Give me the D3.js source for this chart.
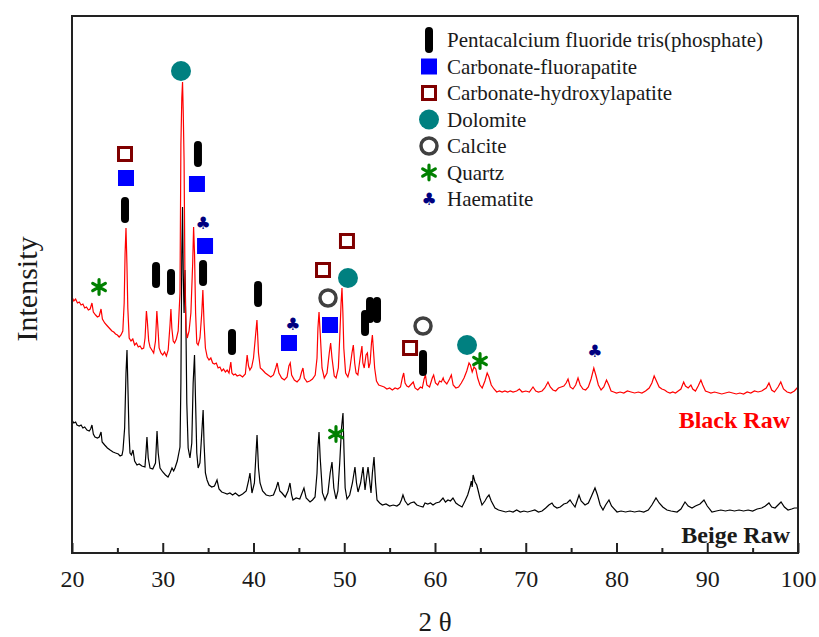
<!DOCTYPE html>
<html>
<head>
<meta charset="utf-8">
<script src="https://cdn.jsdelivr.net/npm/d3@7"></script>
<style>
  body { margin: 0; background: #fff; }
  svg text { font-family: "Liberation Serif", "Times New Roman", serif; fill: #1a1a1a; }
</style>
</head>
<body>
<div id="chart"></div>
<script>
// 2-theta (deg) vs intensity (a.u.)
const blackRaw = [
  [20.0,256],[20.2,252],[20.4,254],[20.6,250],[20.8,251],[21.0,248],[21.2,249],[21.4,245],[21.6,246],[21.8,243],
  [22.0,244],[22.2,250],[22.35,241],[22.6,238],[22.8,236],[23.0,237],[23.2,244],[23.35,234],[23.6,230],[23.8,228],
  [24.0,226],[24.2,224],[24.4,222],[24.6,221],[24.8,219],[25.0,218],[25.2,216],[25.4,218],[25.6,222],[25.75,250],
  [25.85,300],[25.95,325],[26.05,290],[26.15,245],[26.3,215],[26.5,212],[26.7,214],[26.9,208],[27.1,210],[27.3,206],
  [27.5,207],[27.7,204],[27.9,205],[28.05,215],[28.2,242],[28.3,232],[28.45,212],[28.6,206],[28.8,203],[29.0,200],
  [29.2,212],[29.35,242],[29.45,228],[29.6,205],[29.8,200],[30.0,198],[30.2,201],[30.4,197],[30.6,203],[30.8,228],
  [30.9,244],[31.0,225],[31.15,212],[31.3,210],[31.5,214],[31.7,222],[31.9,260],[32.0,408],[32.1,455],[32.18,471],
  [32.26,440],[32.35,393],[32.45,270],[32.55,225],[32.7,215],[32.9,222],[33.1,240],[33.3,290],[33.4,326],[33.5,300],
  [33.62,240],[33.75,210],[33.9,208],[34.1,215],[34.3,240],[34.42,263],[34.55,230],[34.7,205],[34.9,196],[35.1,193],
  [35.3,195],[35.5,190],[35.7,189],[35.9,190],[36.1,185],[36.3,186],[36.5,182],[36.7,184],[36.9,181],[37.1,183],
  [37.3,180],[37.5,191],[37.62,180],[37.8,178],[38.0,179],[38.2,177],[38.5,178],[38.8,176],[39.1,179],[39.3,198],
  [39.45,187],[39.6,183],[39.8,186],[40.0,195],[40.2,215],[40.38,233],[40.55,200],[40.75,185],[41.0,183],[41.3,180],
  [41.6,178],[41.9,176],[42.2,178],[42.45,185],[42.6,190],[42.8,180],[43.1,175],[43.4,173],[43.7,176],[43.9,187],
  [44.05,190],[44.2,178],[44.5,173],[44.8,171],[45.1,174],[45.3,181],[45.45,185],[45.6,175],[45.9,171],[46.2,172],
  [46.5,174],[46.8,178],[47.0,195],[47.1,225],[47.22,241],[47.35,220],[47.55,185],[47.8,175],[48.1,180],[48.35,200],
  [48.5,210],[48.65,195],[48.9,177],[49.1,175],[49.35,185],[49.5,215],[49.65,250],[49.75,265],[49.85,240],[49.95,205],
  [50.15,180],[50.4,176],[50.6,183],[50.85,200],[51.0,208],[51.15,190],[51.3,180],[51.5,178],[51.75,195],[51.95,207],
  [52.05,190],[52.2,185],[52.4,198],[52.55,200],[52.7,185],[52.85,190],[53.0,210],[53.1,218],[53.2,205],[53.35,185],
  [53.55,172],[53.8,168],[54.1,167],[54.4,166],[54.7,164],[55.0,165],[55.3,163],[55.6,165],[55.9,164],[56.2,166],
  [56.4,175],[56.55,180],[56.7,170],[56.9,167],[57.1,166],[57.3,168],[57.6,171],[57.8,165],[58.1,163],[58.4,166],
  [58.6,165],[58.8,174],[58.95,178],[59.1,168],[59.4,166],[59.7,175],[59.85,178],[60.05,170],[60.3,168],[60.5,172],
  [60.7,171],[60.9,175],[61.0,172],[61.3,169],[61.6,174],[61.8,178],[62.0,168],[62.3,165],[62.6,166],[62.9,170],
  [63.2,175],[63.5,182],[63.75,190],[63.9,188],[64.1,181],[64.3,186],[64.5,184],[64.7,175],[64.95,168],[65.2,165],
  [65.5,172],[65.75,180],[65.95,176],[66.2,168],[66.5,164],[66.8,161],[67.1,162],[67.4,161],[67.7,162],[68.0,161],
  [68.3,162],[68.6,161],[69.0,162],[69.3,164],[69.6,161],[70.0,162],[70.4,161],[70.8,166],[71.1,162],[71.4,161],
  [71.8,162],[72.1,165],[72.45,171],[72.7,166],[73.0,163],[73.3,162],[73.6,165],[73.9,166],[74.2,167],[74.45,170],
  [74.66,174],[74.9,166],[75.2,164],[75.5,168],[75.76,175],[76.0,168],[76.3,164],[76.6,163],[76.9,166],[77.2,174],
  [77.5,185],[77.75,177],[78.0,168],[78.3,163],[78.6,166],[78.9,173],[79.15,168],[79.4,162],[79.7,161],[80.0,160],
  [80.4,161],[80.8,160],[81.2,162],[81.6,161],[82.0,160],[82.4,161],[82.8,160],[83.2,162],[83.6,165],[83.9,170],
  [84.15,177],[84.4,172],[84.7,166],[85.0,164],[85.3,163],[85.6,161],[85.9,160],[86.2,161],[86.5,160],[86.8,162],
  [87.1,164],[87.4,171],[87.6,167],[87.9,165],[88.2,168],[88.4,164],[88.7,162],[89.0,167],[89.3,173],[89.5,168],
  [89.8,162],[90.1,161],[90.4,160],[90.8,161],[91.2,160],[91.6,159],[92.0,160],[92.4,161],[92.8,160],[93.2,159],
  [93.6,160],[94.0,159],[94.4,161],[94.8,160],[95.2,162],[95.6,161],[96.0,162],[96.5,165],[96.8,170],[97.1,163],
  [97.4,161],[97.8,166],[98.1,171],[98.4,164],[98.8,161],[99.2,160],[99.6,162],[100.0,166]
];

const beigeRaw = [
  [20.0,133],[20.2,130],[20.4,131],[20.55,128],[20.8,127],[21.0,128],[21.2,125],[21.4,126],[21.65,123],[21.9,122],
  [22.05,124],[22.2,128],[22.35,119],[22.53,116],[22.8,115],[23.0,116],[23.2,121],[23.32,111],[23.6,108],[23.9,105],
  [24.2,103],[24.52,101],[24.8,100],[25.1,99],[25.3,97],[25.51,98],[25.62,103],[25.8,125],[25.95,180],[26.06,203],
  [26.17,163],[26.28,120],[26.39,100],[26.55,98],[26.72,103],[26.9,92],[27.16,88],[27.4,89],[27.7,87],[28.04,86],
  [28.15,100],[28.26,116],[28.4,95],[28.6,85],[28.9,84],[29.2,90],[29.37,122],[29.5,100],[29.7,85],[30.0,81],
  [30.3,78],[30.58,76],[30.8,80],[31.02,85],[31.2,82],[31.35,85],[31.6,92],[31.9,106],[32.0,170],[32.1,300],
  [32.18,346],[32.26,280],[32.35,240],[32.45,283],[32.55,230],[32.65,150],[32.8,105],[33.0,95],[33.2,110],[33.35,170],
  [33.5,198],[33.62,150],[33.75,100],[33.9,85],[34.1,90],[34.3,120],[34.45,143],[34.55,110],[34.7,80],[34.88,73],
  [35.1,68],[35.4,66],[35.7,67],[35.98,73],[36.2,64],[36.5,61],[36.8,60],[37.1,59],[37.4,60],[37.7,58],
  [38.0,60],[38.4,57],[38.8,59],[39.2,62],[39.45,72],[39.61,80],[39.83,60],[40.1,70],[40.25,95],[40.39,118],
  [40.55,85],[40.72,70],[41.0,62],[41.4,58],[41.8,57],[42.2,58],[42.5,65],[42.7,71],[42.9,62],[43.14,60],
  [43.5,56],[43.8,62],[44.02,70],[44.2,58],[44.35,53],[44.7,55],[45.1,54],[45.35,60],[45.56,65],[45.8,55],
  [46.23,51],[46.5,53],[46.78,56],[47.0,80],[47.1,105],[47.22,121],[47.35,95],[47.6,60],[47.88,53],[48.2,60],
  [48.45,80],[48.65,91],[48.85,65],[49.09,54],[49.3,62],[49.5,90],[49.7,125],[49.86,140],[49.98,100],[50.1,65],
  [50.3,54],[50.6,58],[50.9,70],[51.18,86],[51.35,70],[51.52,61],[51.8,70],[52.07,86],[52.29,63],[52.45,75],
  [52.62,86],[52.95,60],[53.1,80],[53.28,96],[53.45,70],[53.61,53],[53.9,50],[54.2,48],[54.6,49],[55.0,47],
  [55.4,48],[55.8,47],[56.1,49],[56.3,53],[56.47,58],[56.7,52],[57.02,48],[57.3,50],[57.69,51],[58.0,48],
  [58.3,47],[58.68,46],[58.9,50],[59.2,49],[59.5,50],[59.78,48],[60.1,50],[60.5,51],[60.88,55],[61.15,51],
  [61.43,53],[61.7,52],[61.98,55],[62.3,50],[62.6,48],[62.98,46],[63.3,52],[63.6,58],[63.86,66],[64.0,72],
  [64.1,66],[64.2,78],[64.41,71],[64.6,68],[64.74,63],[64.95,55],[65.18,48],[65.5,52],[65.75,56],[65.95,58],
  [66.2,52],[66.61,45],[67.0,43],[67.4,42],[67.8,41],[68.2,42],[68.6,41],[69.0,43],[69.4,41],[69.8,42],
  [70.2,41],[70.6,42],[71.0,43],[71.4,41],[71.8,42],[72.2,45],[72.55,48],[72.89,50],[73.1,47],[73.44,45],
  [73.8,46],[74.2,49],[74.55,50],[74.88,53],[75.1,50],[75.43,46],[75.65,52],[75.87,58],[76.1,52],[76.53,48],
  [76.9,50],[77.2,56],[77.63,65],[77.9,58],[78.2,48],[78.51,43],[78.8,48],[79.17,53],[79.45,47],[80.06,41],
  [80.5,42],[81.0,41],[81.5,42],[82.0,41],[82.5,42],[83.0,41],[83.5,43],[83.9,48],[84.35,55],[84.7,50],
  [85.1,46],[85.56,43],[86.0,42],[86.67,41],[87.1,44],[87.55,51],[87.9,47],[88.32,45],[88.7,47],[89.2,49],
  [89.64,53],[90.0,47],[90.52,41],[91.0,42],[91.5,43],[92.0,42],[92.5,43],[93.0,42],[93.5,43],[94.0,42],
  [94.5,43],[95.0,42],[95.5,44],[96.0,45],[96.4,47],[96.8,50],[97.1,46],[97.47,45],[97.8,48],[98.13,51],
  [98.5,46],[98.9,43],[99.3,44],[99.6,45],[100.0,45]
];

// phase markers [2theta, intensity position]
const pentacalcium = [[25.84,343],[29.26,278],[30.91,271],[33.88,399],[34.44,280],[37.63,211],[40.5,259],[52.29,230],[52.84,243],[53.61,243],[58.68,190]];
const fluorapatite = [[25.95,375],[33.77,369],[34.66,307],[43.91,210],[48.43,228]];
const hydroxylapatite = [[25.84,399],[47.66,283],[50.3,312],[57.25,205]];
const dolomite = [[32.01,482],[50.41,275],[63.53,208]];
const calcite = [[48.21,255],[58.68,227]];
const quartz = [[22.98,266],[49.09,119],[64.96,192]];
const haematite = [[34.44,330],[44.35,229],[77.63,202]];

const phaseNames = ["Pentacalcium fluoride tris(phosphate)", "Carbonate-fluorapatite", "Carbonate-hydroxylapatite",
  "Dolomite", "Calcite", "Quartz", "Haematite"];
const xTicks = [20, 30, 40, 50, 60, 70, 80, 90, 100];
const xMinorTicks = [25, 35, 45, 55, 65, 75, 85, 95];

const width = 819, height = 637;
const margin = {top: 16, right: 21, bottom: 84, left: 72};

const svg = d3.select("#chart").append("svg")
  .attr("width", width)
  .attr("height", height);

const x = d3.scaleLinear().domain([20, 100]).range([margin.left, width - margin.right]);
const y = d3.scaleLinear().domain([0, 537]).range([height - margin.bottom, margin.top]);

const line = d3.line().x(d => x(d[0])).y(d => y(d[1]));

svg.append("path").datum(beigeRaw)
  .attr("d", line).attr("fill", "none").attr("stroke", "#000").attr("stroke-width", 1.2);
svg.append("path").datum(blackRaw)
  .attr("d", line).attr("fill", "none").attr("stroke", "#ff0000").attr("stroke-width", 1.2);

// axis
const axisY = height - margin.bottom;
const xAxis = svg.append("g")
  .attr("transform", "translate(0," + axisY + ")")
  .call(d3.axisBottom(x).tickValues(xTicks).tickSize(-10).tickPadding(17));
xAxis.select(".domain").remove();
xAxis.selectAll(".tick line").attr("stroke", "#222").attr("stroke-width", 2);
xAxis.selectAll(".tick text")
  .style("font-family", "'Liberation Serif', serif")
  .style("font-size", "24px").style("fill", "#1a1a1a");

const minor = svg.append("g")
  .attr("transform", "translate(0," + axisY + ")")
  .call(d3.axisBottom(x).tickValues(xMinorTicks).tickSize(-5).tickFormat(""));
minor.select(".domain").remove();
minor.selectAll(".tick line").attr("stroke", "#222").attr("stroke-width", 2);

svg.append("rect")
  .attr("x", margin.left).attr("y", margin.top)
  .attr("width", width - margin.left - margin.right)
  .attr("height", height - margin.top - margin.bottom)
  .attr("fill", "none").attr("stroke", "#222").attr("stroke-width", 2);

// marker drawers
function drawBar(g) {
  g.append("rect").attr("x", -4).attr("y", -13).attr("width", 8).attr("height", 26)
    .attr("rx", 4).attr("fill", "#000");
}
function drawSquare(g) {
  g.append("rect").attr("x", -8).attr("y", -8).attr("width", 16).attr("height", 16).attr("fill", "#0000ff");
}
function drawHollowSquare(g) {
  g.append("rect").attr("x", -6.5).attr("y", -6.5).attr("width", 13).attr("height", 13)
    .attr("fill", "#fff").attr("stroke", "#800000").attr("stroke-width", 3);
}
function drawDolomite(g) {
  g.append("circle").attr("r", 10).attr("fill", "#008080");
}
function drawCalcite(g) {
  g.append("circle").attr("r", 8).attr("fill", "#fff").attr("stroke", "#404040").attr("stroke-width", 3.5);
}
function drawQuartz(g) {
  g.append("path").attr("d", d3.symbol(d3.symbolAsterisk, 150)())
    .attr("fill", "none").attr("stroke", "#008000").attr("stroke-width", 3.2).attr("stroke-linecap", "round");
}
function drawClub(g) {
  g.append("text").text("\u2663").attr("text-anchor", "middle").attr("dy", "0.35em")
    .style("font-family", "'DejaVu Sans', sans-serif").style("font-size", "17px").style("fill", "#000080");
}

const phases = [
  {data: pentacalcium, draw: drawBar},
  {data: fluorapatite, draw: drawSquare},
  {data: hydroxylapatite, draw: drawHollowSquare},
  {data: dolomite, draw: drawDolomite},
  {data: calcite, draw: drawCalcite},
  {data: quartz, draw: drawQuartz},
  {data: haematite, draw: drawClub}
];

phases.forEach(p => {
  svg.append("g").selectAll("g")
    .data(p.data)
    .enter().append("g")
    .attr("transform", d => "translate(" + x(d[0]) + "," + y(d[1]) + ")")
    .each(function() { p.draw(d3.select(this)); });
});

// legend
const legend = svg.append("g").attr("transform", "translate(429,40)");
phaseNames.forEach((name, i) => {
  const row = legend.append("g").attr("transform", "translate(0," + (i * 26.5) + ")");
  phases[i].draw(row);
  row.append("text").attr("x", 18).attr("y", 7).text(name)
    .style("font-size", "21px");
});

// sample labels
svg.append("text").attr("x", 790).attr("y", 428).attr("text-anchor", "end")
  .text("Black Raw").style("font-size", "24px").style("font-weight", "bold").style("fill", "#ff0000");
svg.append("text").attr("x", 790).attr("y", 543).attr("text-anchor", "end")
  .text("Beige Raw").style("font-size", "24px").style("font-weight", "bold");

// axis titles
svg.append("text").attr("x", 435).attr("y", 631).attr("text-anchor", "middle")
  .text("2 \u03b8").style("font-size", "27px");
svg.append("text").attr("transform", "translate(37,289) rotate(-90)").attr("text-anchor", "middle")
  .text("Intensity").style("font-size", "30px");
</script>
</body>
</html>
